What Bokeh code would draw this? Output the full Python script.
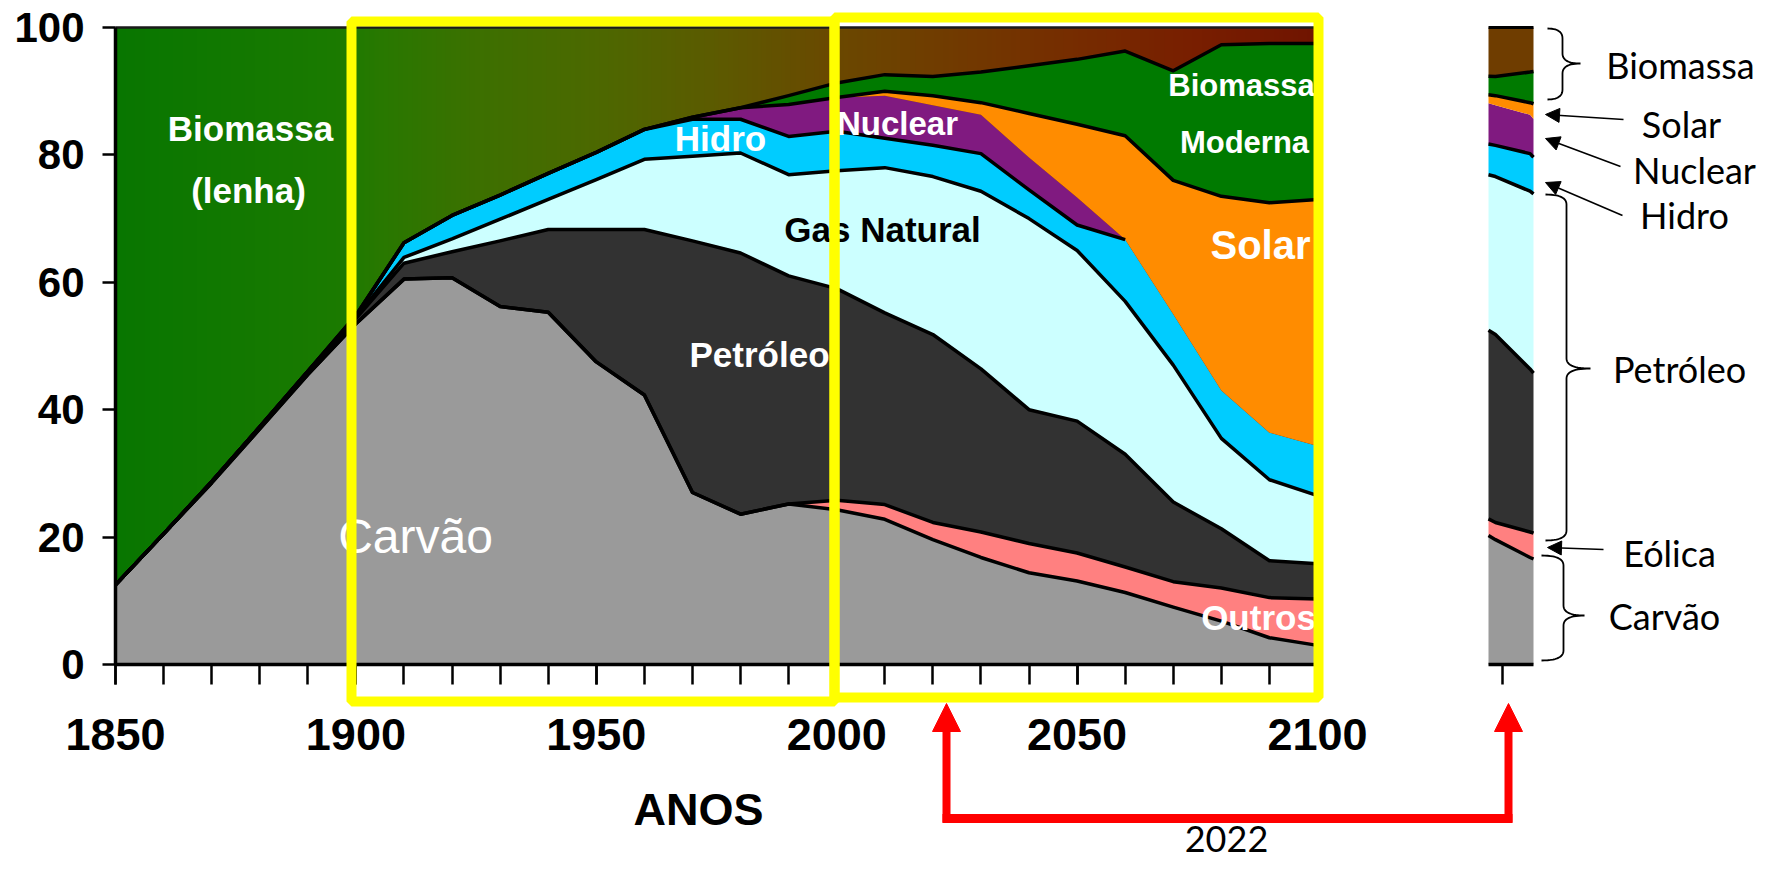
import numpy as np
from bokeh.plotting import figure
from bokeh.models import (ColumnDataSource, LinearAxis, SingleIntervalTicker, FixedTicker,
                          Range1d, Label, Arrow, NormalHead, BoxAnnotation)
from bokeh.embed import file_html
from bokeh.resources import INLINE

# ---------------- data (shares in %) ----------------
years = [1850, 1860, 1870, 1880, 1890, 1900, 1910, 1920, 1930, 1940, 1950, 1960, 1970,
         1980, 1990, 2000, 2010, 2020, 2030, 2040, 2050, 2060, 2070, 2080, 2090, 2100]
carvao = [12.5, 20.5, 28.5, 37.0, 45.5, 53.5, 60.5, 60.7, 56.2, 55.3, 47.5, 42.3, 27.0,
          23.6, 25.2, 24.3, 22.8, 19.6, 16.8, 14.4, 13.1, 11.3, 9.0, 6.8, 4.2, 3.0]
outros = [0, 0, 0, 0, 0, 0, 0, 0, 0, 0, 0, 0, 0,
          0, 0.0, 1.5, 2.3, 2.7, 4.0, 4.6, 4.4, 4.0, 4.0, 5.2, 6.3, 7.3]
petroleo = [0.0, 0.0, 0.2, 0.3, 0.5, 0.8, 2.5, 4.1, 10.3, 13.0, 20.8, 26.0, 39.5,
            41.0, 35.8, 33.2, 30.1, 29.5, 25.6, 21.0, 20.7, 17.7, 12.5, 9.3, 5.8, 5.5]
gas_natural = [0, 0, 0, 0, 0, 0.2, 0.9, 2.0, 3.4, 4.7, 7.8, 11.0, 13.3,
               15.7, 15.9, 18.5, 22.8, 24.8, 27.9, 30.0, 26.8, 24.0, 21.5, 14.2, 12.7, 10.7]
hidro = [0, 0, 0, 0, 0, 0.3, 2.3, 3.7, 3.8, 4.1, 4.3, 4.7, 5.8,
         5.3, 6.0, 6.2, 4.6, 4.9, 5.9, 4.5, 4.0, 9.7, 8.0, 7.5, 7.4, 7.8]
nuclear = [0, 0, 0, 0, 0, 0, 0, 0, 0, 0, 0, 0, 0.3,
           1.8, 5.0, 5.3, 6.7, 6.3, 6.1, 5.1, 4.3, 0, 0, 0, 0, 0]
solar = [0, 0, 0, 0, 0, 0, 0, 0, 0, 0, 0, 0, 0,
         0, 0, 0, 0.7, 1.5, 1.9, 6.9, 11.5, 16.3, 21.0, 30.5, 36.1, 38.7]
biomassa_moderna = [0, 0, 0, 0, 0, 0, 0, 0, 0, 0, 0, 0, 0,
                    0, 1.4, 2.3, 2.6, 3.0, 4.8, 7.5, 10.2, 13.3, 17.2, 23.8, 25.0, 24.5]
# Biomassa (lenha) = remainder up to 100 %

x_ticks_major = 50
y_ticks = 20
BAR_YEAR = 2022
SLICE = (2018, 2031)          # window shown in the detached 2022 strip

names = ["carvao", "outros", "petroleo", "gas_natural", "hidro", "nuclear", "solar", "biomassa_moderna"]
series = [carvao, outros, petroleo, gas_natural, hidro, nuclear, solar, biomassa_moderna]
colors = ["#9a9a9a", "#ff8080", "#323232", "#ccffff", "#00ccff", "#801a80", "#ff8c00", "#007a00"]

# ---------------- geometry (pixels) ----------------
W, H = 1761, 861
OFF = 0
PX_1850, PX_2100 = 115.0, 1317.0
PX_Y0, PX_Y100 = 664.0, 27.0
SX = (PX_2100 - PX_1850) / 250.0
SY = (PX_Y0 - PX_Y100) / 100.0


def X(px):
    return 1850 + (px - PX_1850) / SX


def Y(py):
    return (PX_Y0 - py) / SY


BAR_PX0, BAR_PX1 = 1488.0, 1533.0
BSX = (BAR_PX1 - BAR_PX0) / (SLICE[1] - SLICE[0])


def BX(px):
    return SLICE[0] + (px - BAR_PX0) / BSX


SANS = "Liberation Sans"
SIDE = "Lato"

p = figure(width=W, height=H, x_range=Range1d(X(OFF), X(OFF + W)),
           y_range=Range1d(Y(OFF + H), Y(OFF)),
           x_axis_type=None, y_axis_type=None, toolbar_location=None,
           output_backend="svg", min_border=0, outline_line_color=None,
           background_fill_color="white", border_fill_color="white")
p.extra_x_ranges = {"slice": Range1d(BX(OFF), BX(OFF + W))}

# ---------------- top layer (traditional biomass) gradient ----------------
gx = np.linspace(years[0], years[-1], 251)
stop_years = [1850, 1895, 1905, 1925, 1950, 1975, 2000, 2025, 2050, 2075, 2100]
stop_rgb = [(8, 118, 0), (26, 122, 0), (40, 120, 0), (60, 112, 0), (76, 104, 0), (92, 90, 0),
            (106, 72, 0), (113, 58, 0), (118, 44, 0), (120, 30, 0), (112, 20, 0)]
rgba = np.zeros((1, gx.size, 4), dtype=np.uint8)
for k in range(3):
    rgba[0, :, k] = np.round(np.interp(gx, stop_years, [c[k] for c in stop_rgb]))
rgba[0, :, 3] = 255
img = rgba.view(dtype=np.uint32).reshape((1, gx.size))
p.image_rgba(image=[img], x=years[0], y=0, dw=years[-1] - years[0], dh=100)

# ---------------- stacked areas ----------------
src = ColumnDataSource(data=dict(year=years, **{n: s for n, s in zip(names, series)}))
p.varea_stack(stackers=names, x="year", color=colors, source=src)

yr = np.array(years, dtype=float)
cum = np.cumsum(np.array(series, dtype=float), axis=0)
LW = 3.5
for i in [0, 1, 2, 3, 6, 7]:
    p.line(yr, cum[i], line_color="black", line_width=LW, line_join="round")
m = yr <= 2060
p.line(yr[m], cum[4][m], line_color="black", line_width=LW, line_join="round")
p.segment(x0=[years[0]], y0=[100], x1=[years[-1]], y1=[100], line_color="#1a1a1a", line_width=2.5)

# ---------------- detached 2022 strip ----------------
sx = [SLICE[0]] + [y for y in years if SLICE[0] < y < SLICE[1]] + [SLICE[1]]
sdata = {n: np.interp(sx, years, s) for n, s in zip(names, series)}
ssrc = ColumnDataSource(data=dict(year=sx, **sdata))
p.varea_stack(stackers=names, x="year", color=colors, source=ssrc, x_range_name="slice")
scum = np.cumsum(np.array([sdata[n] for n in names]), axis=0)
p.varea(x=sx, y1=scum[-1], y2=[100] * len(sx), fill_color="#6f3d00", x_range_name="slice")
sxa = np.array(sx, dtype=float)
for i in [0, 1, 2, 3, 4, 6, 7]:
    p.line(sxa, scum[i], line_color="black", line_width=LW, x_range_name="slice")
p.segment(x0=[SLICE[0]], y0=[100], x1=[SLICE[1]], y1=[100], line_color="black",
          line_width=3, x_range_name="slice")

# ---------------- axes ----------------
xaxis = LinearAxis(fixed_location=0, bounds=(years[0], years[-1]),
                   ticker=SingleIntervalTicker(interval=x_ticks_major, num_minor_ticks=5))
yaxis = LinearAxis(fixed_location=years[0], bounds=(0, 100),
                   ticker=SingleIntervalTicker(interval=y_ticks, num_minor_ticks=0))
for ax in (xaxis, yaxis):
    ax.axis_line_color = "black"
    ax.axis_line_width = 3.5
    ax.major_tick_line_color = "black"
    ax.major_tick_line_width = 2.5
    ax.minor_tick_line_color = "black"
    ax.minor_tick_line_width = 2.5
    ax.major_tick_in = 0
    ax.minor_tick_in = 0
    ax.major_label_text_font = SANS
    ax.major_label_text_font_style = "bold"
    ax.major_label_text_color = "black"
xaxis.major_tick_out = 20
xaxis.minor_tick_out = 20
xaxis.major_label_text_font_size = "45px"
xaxis.major_label_standoff = 34
yaxis.major_tick_out = 13
yaxis.minor_tick_out = 0
yaxis.major_label_text_font_size = "42px"
yaxis.major_label_standoff = 18
p.add_layout(xaxis, "below")
p.add_layout(yaxis, "left")

saxis = LinearAxis(x_range_name="slice", fixed_location=0, bounds=SLICE,
                   ticker=FixedTicker(ticks=[BAR_YEAR]))
saxis.axis_line_color = "black"
saxis.axis_line_width = 3.5
saxis.major_tick_line_width = 2.5
saxis.major_tick_in = 0
saxis.major_tick_out = 20
saxis.minor_tick_out = 0
saxis.major_label_text_color = None
p.add_layout(saxis, "below")


# ---------------- labels ----------------
def lab(text, px, py, size, color="white", style="bold", font=SANS, align="center"):
    p.add_layout(Label(x=X(px), y=Y(py), text=text, text_align=align, text_baseline="middle",
                       text_font=font, text_font_size=f"{size}px", text_font_style=style,
                       text_color=color))


lab("Biomassa", 250, 128, 35)
lab("(lenha)", 248, 190, 35)
lab("Carvão", 415, 536, 48, style="normal")
lab("Petróleo", 759, 354, 35)
lab("Hidro", 720, 138, 35)
lab("Nuclear", 897, 123, 33)
lab("Gas Natural", 882, 229, 35, color="black")
lab("Solar", 1260, 244, 40)
lab("Biomassa", 1241, 85, 31)
lab("Moderna", 1244, 142, 31)
lab("Outros", 1258, 617, 35)
lab("ANOS", 698, 809, 45, color="black")

for t, px, py in [("Biomassa", 1680, 64), ("Solar", 1681, 123), ("Nuclear", 1694, 169),
                  ("Hidro", 1684, 214), ("Petróleo", 1679, 368), ("Eólica", 1669, 552),
                  ("Carvão", 1664, 615)]:
    lab(t, px, py, 36, color="black", style="normal", font=SIDE)
lab(str(BAR_YEAR), 1226, 838, 36, color="black", style="normal", font=SIDE)

# ---------------- highlight boxes ----------------
for (l, r, t, b) in [(351, 834, 21, 701), (834, 1318, 17, 697)]:
    p.add_layout(BoxAnnotation(left=X(l), right=X(r), top=Y(t), bottom=Y(b),
                               fill_alpha=0, fill_color=None, line_color="#ffff00",
                               line_width=10, line_alpha=1))


# ---------------- braces & pointer arrows ----------------
def brace(x0, xv, xt, yt, yb, ym, r=10):
    t = np.linspace(0, 1, 14)

    def quad(a, c, b):
        return [((1 - s) ** 2 * a[0] + 2 * (1 - s) * s * c[0] + s ** 2 * b[0],
                 (1 - s) ** 2 * a[1] + 2 * (1 - s) * s * c[1] + s ** 2 * b[1]) for s in t]
    pts = []
    pts += quad((x0, yt), (xv, yt), (xv, yt + r))
    pts += quad((xv, ym - r), (xv, ym), (xt, ym))
    pts += quad((xt, ym), (xv, ym), (xv, ym + r))
    pts += quad((xv, yb - r), (xv, yb), (x0, yb))
    p.line([X(a) for a, _ in pts], [Y(b) for _, b in pts], line_color="black", line_width=1.8)


brace(1547, 1562, 1580, 28, 99, 63)
brace(1545, 1566, 1590, 194, 540, 368)
brace(1541, 1563, 1584, 555, 660, 615)

for (tx, ty, hx, hy) in [(1623, 119, 1545, 114), (1620, 166, 1545, 138),
                         (1622, 215, 1545, 182), (1603, 549, 1547, 547)]:
    p.add_layout(Arrow(x_start=X(tx), y_start=Y(ty), x_end=X(hx), y_end=Y(hy),
                       end=NormalHead(size=14, fill_color="black", line_color="black"),
                       line_color="black", line_width=1.6))

# red connector from 2022 on the axis to the detached strip
for ax_px in (946, 1508):
    p.add_layout(Arrow(x_start=X(ax_px), y_start=Y(822), x_end=X(ax_px), y_end=Y(703),
                       end=NormalHead(size=28, fill_color="#ff0000", line_color="#ff0000"),
                       line_color="#ff0000", line_width=8))
p.add_layout(Arrow(x_start=X(942), y_start=Y(818), x_end=X(1512), y_end=Y(818), end=None,
                   line_color="#ff0000", line_width=9))

open("out.html", "w").write(file_html(p, INLINE))
